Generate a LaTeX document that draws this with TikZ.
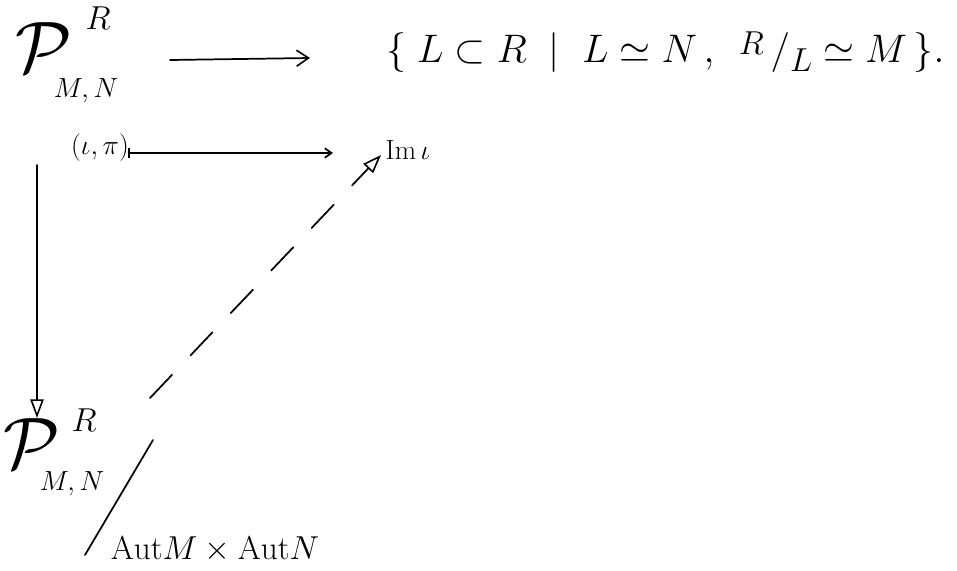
\documentclass[tikz,border=0pt]{standalone}
\usetikzlibrary{arrows.meta}
\begin{document}
\begin{tikzpicture}[x=0.75pt,y=-0.75pt,
  ink/.style={line width=1.3pt,line cap=round,draw=black},
  bigP/.style={inner sep=0pt,font=\Huge},
  supR/.style={inner sep=0pt,font=\Huge},
  subMN/.style={inner sep=0pt,font=\fontsize{21}{21}\selectfont},
  settext/.style={inner sep=0pt,font=\Huge},
  small/.style={inner sep=0pt,font=\fontsize{20}{20}\selectfont},
  openhead/.style={-{Triangle[open,length=14pt,width=10pt,line width=1.2pt]}}]
\useasboundingbox (0,0) rectangle (957,571);
% top object
\node[bigP] (P1) at (44,48) {\scalebox{2.2}{$\mathcal{P}$}};
\node[supR] (R1) at (98,18) {$R$};
\node[subMN] (MN1) at (86,91) {$M,N$};
% set
\node[settext,anchor=west] (S) at (386,52) {\scalebox{1.2}{$\{\;L\subset R\;\mid\;L\simeq N\,,\;\,\raisebox{.45ex}{$\scriptstyle R$}\,/\raisebox{-.55ex}{$\scriptstyle L$}\simeq M\,\}.$}};
% elements
\node[small] (pair) at (100,148) {$(\iota,\pi)$};
\node[small] (im) at (408,150) {$\mathrm{Im}\,\iota$};
% bottom object
\node[bigP] (P2) at (32,444) {\scalebox{2.2}{$\mathcal{P}$}};
\node[supR] (R2) at (84,420) {$R$};
\node[subMN] (MN2) at (72,484) {$M,N$};
\node[small,font=\fontsize{24}{24}\selectfont] (aut) at (215,550) {$\mathrm{Aut}M\times\mathrm{Aut}N$};
% coordinates
\coordinate (a1) at (170,60);
\coordinate (a2) at (310,58);
\coordinate (m1) at (128,153);
\coordinate (m2) at (333,153);
\coordinate (v1) at (37,165);
\coordinate (v2) at (37,418);
\coordinate (d1) at (150,398);
\coordinate (d2) at (381,155);
\coordinate (s1) at (85,555);
\coordinate (s2) at (153,440);
% connectors
\draw[ink,-{Straight Barb[length=9pt,width=12pt,line width=1.2pt]}] (a1) -- (a2);
\draw[ink,{Bar[width=8pt]}-{Straight Barb[length=5pt,width=7pt]}] (m1) -- (m2);
\draw[ink,openhead] (v1) -- (v2);
\draw[ink,openhead,dash pattern=on 24pt off 20pt] (d1) -- (d2);
\draw[ink] (s1) -- (s2);
\end{tikzpicture}
\end{document}
